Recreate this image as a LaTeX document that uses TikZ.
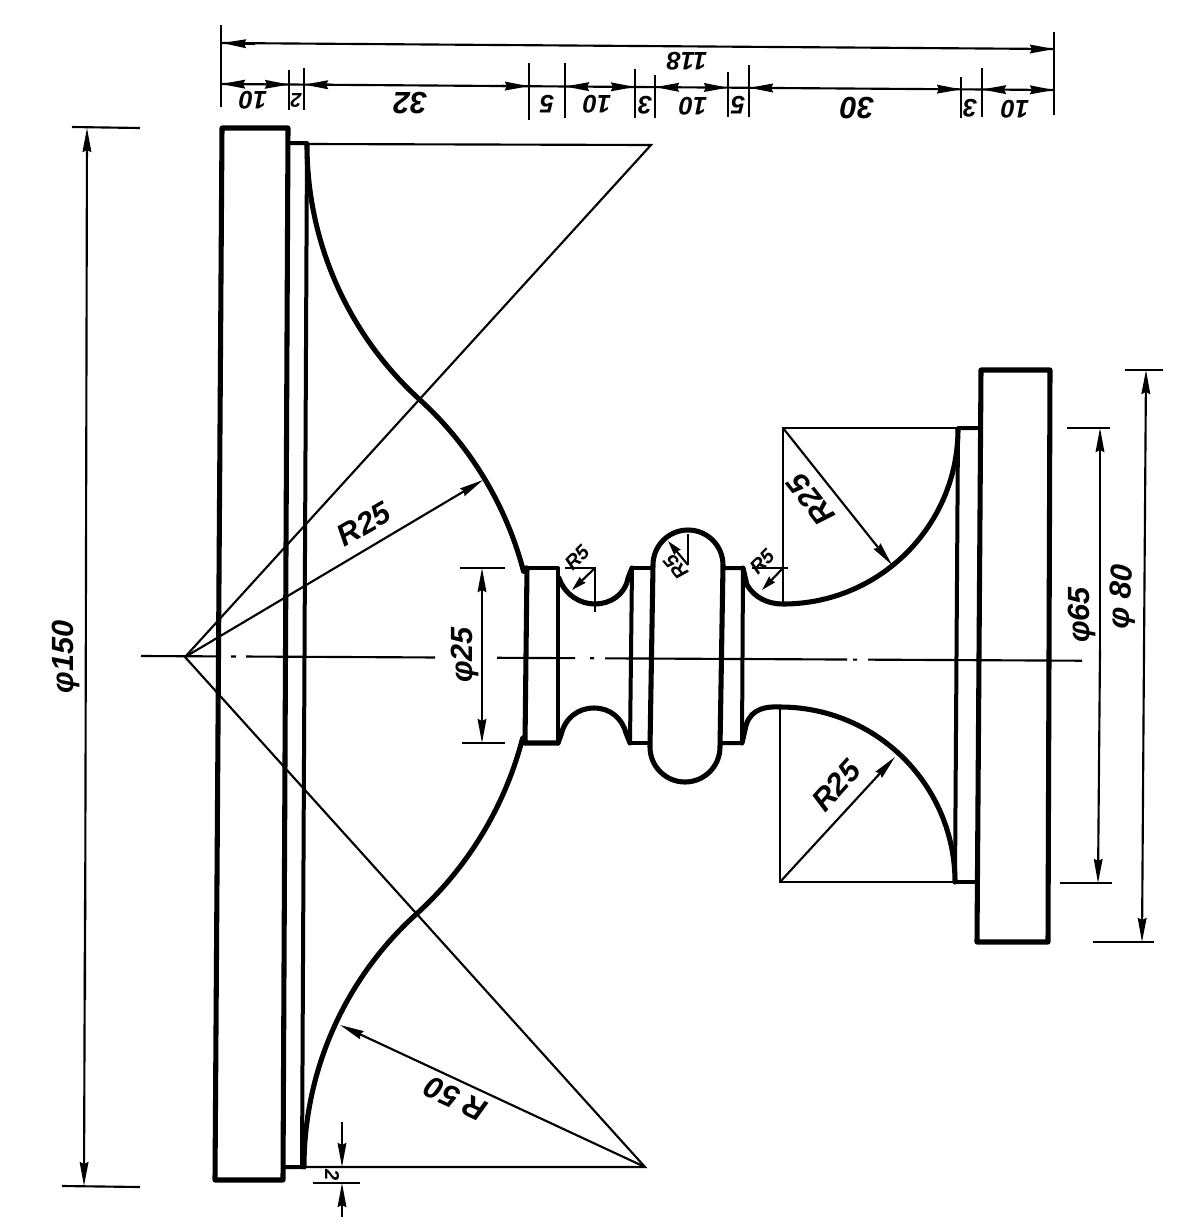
\documentclass[tikz,border=0pt]{standalone}
\usepackage{fontspec}
\usetikzlibrary{arrows.meta}
\newfontfamily\dimfont{Liberation Sans}
\tikzset{
  outline/.style={line width=3.8pt,line join=round,line cap=round},
  midline/.style={line width=3pt,line join=round,line cap=round},
  thin/.style={line width=1.6pt},
  arrowed/.style={line width=1.6pt,-{Stealth[length=18pt,width=6.5pt,inset=1.5pt]}},
  smallarrow/.style={line width=1.6pt,-{Stealth[length=11pt,width=6pt,inset=1pt]}},
  dimtext/.style={font=\dimfont\bfseries\itshape\fontsize{19}{19}\selectfont,inner sep=0pt},
  bigtext/.style={font=\dimfont\bfseries\itshape\fontsize{23}{23}\selectfont,inner sep=0pt},
  smalltext/.style={font=\dimfont\bfseries\itshape\fontsize{15}{15}\selectfont,inner sep=0pt}
}
\begin{document}
\begin{tikzpicture}[x=0.75pt,y=-0.75pt]
\useasboundingbox[fill=white] (0,0) rectangle (1184,1232);
% centres
\coordinate (cA) at (185,657);
\coordinate (cTop) at (651,145);
\coordinate (cBot) at (645,1167);
\coordinate (cRT) at (783,428);
\coordinate (cRB) at (780,882);
\coordinate (c5a) at (595,568);
\coordinate (c5b) at (688,565);
\coordinate (c5c) at (783,568);
% centre line
\foreach \a/\b in {141/216,231/236,246/435,497/575,590/594,605/847,853/857,868/1082}
  \draw[thin] ({\a},{656+(\a-141)*0.005}) -- ({\b},{656+(\b-141)*0.005});
% construction lines
\draw[thin] (cA) -- (cTop) -- (307,144);
\draw[thin] (cA) -- (cBot) -- (304,1167);
\draw[thin] (783,604) -- (cRT) -- (958,428);
\draw[thin] (780,707) -- (cRB) -- (955,882);
\draw[arrowed] (cA) -- (483,480);
\draw[arrowed] (cBot) -- (340,1025);
\draw[arrowed] (cRT) -- (892,565);
\draw[arrowed] (cRB) -- (895,757);
% small radii
\draw[thin] (565,568) -- (c5a) -- (595,612);
\draw[smallarrow] (c5a) -- (572,590);
\draw[thin] (c5b) -- (688,534);
\draw[smallarrow] (c5b) -- (668,541);
\draw[thin] (752,568) -- (788,568);
\draw[smallarrow] (c5c) -- (762,590);
% left flanges
\draw[outline] (222,128) -- (288,128) -- (283,1180) -- (215,1180) -- cycle;
\draw[midline] (288,143) -- (307,143) -- (302,1167) -- (283,1167);
% large profile
\draw[outline] (307,145) arc[start angle=180,end angle=132.7,radius=344]
  arc[start angle=-48.1,end angle=-14.6,radius=353] -- (526,568);
\draw[outline] (304,1167) arc[start angle=-180,end angle=-132.2,radius=341]
  arc[start angle=47.9,end angle=14.4,radius=358] -- (525,743);
% centre collars and neck
\draw[outline] (527,568) -- (525,743) -- (558,743);
\draw[midline] (527,568) -- (558,568) -- (558,743);
\draw[outline] (559,578) .. controls (565,595) and (580,604) .. (595,604)
  .. controls (610,604) and (625,595) .. (628,578) -- (632,568);
\draw[outline] (558,743) -- (561,735) .. controls (565,718) and (578,708) .. (594,708)
  .. controls (610,708) and (622,718) .. (626,733) -- (630,743);
\draw[midline] (632,568) -- (630,743);
\draw[midline] (632,568) -- (653,568);
\draw[midline] (630,743) -- (650,743);
\draw[outline] (653,565) arc[start angle=180,end angle=360,radius=35] -- (720,747)
  arc[start angle=0,end angle=180,radius=35] -- cycle;
\draw[midline] (723,568) -- (743,568) -- (742,743) -- (720,743);
\draw[outline] (743,568) -- (747,585) .. controls (755,598) and (768,604) .. (783,604)
  arc[start angle=90,end angle=0,radius=175];
\draw[outline] (742,743) -- (745,730) .. controls (748,712) and (760,706) .. (780,707)
  arc[start angle=-90,end angle=0,radius=175];
% right flanges
\draw[midline] (955,882) -- (958,428) -- (980,428);
\draw[midline] (955,882) -- (977,882);
\draw[outline] (981,370) -- (1050,370) -- (1048,942) -- (977,942) -- cycle;
% overall dimensions
\draw[thin] (221,25) -- (221,107);
\draw[thin] (1054,32) -- (1054,115);
\draw[thin] (222,43) -- (1054,49);
\draw[arrowed] (255,44) -- (222,43);
\draw[arrowed] (1020,49) -- (1054,49);
\draw[thin] (221,84) -- (1054,90);
\foreach \x/\a/\b in {289/70/110,304/68/110,529/63/120,565/63/118,635/69/118,655/75/118,728/72/117,749/65/117,961/77/118,982/68/117}
  \draw[thin] (\x,\a) -- (\x,\b);
\foreach \a/\b in {245/221,265/289,330/304,502/529,587/565,613/635,677/655,707/728,768/749,937/961,1002/982,1033/1054}
  \draw[arrowed] ({\a},{84+(\a-221)*0.0072}) -- ({\b},{84+(\b-221)*0.0072});
% vertical dimensions
\draw[thin] (72,127) -- (140,128);
\draw[thin] (62,1186) -- (140,1187);
\draw[arrowed] (85,1000) -- (87,128);
\draw[arrowed] (85,900) -- (84,1186);
\draw[thin] (460,568) -- (505,568);
\draw[thin] (462,743) -- (505,743);
\draw[arrowed] (482,650) -- (482,568);
\draw[arrowed] (482,650) -- (482,743);
\draw[thin] (1067,428) -- (1110,428);
\draw[thin] (1060,883) -- (1112,883);
\draw[arrowed] (1100,650) -- (1100,428);
\draw[arrowed] (1100,650) -- (1098,883);
\draw[thin] (1125,370) -- (1163,370);
\draw[thin] (1093,942) -- (1154,942);
\draw[arrowed] (1144,650) -- (1146,370);
\draw[arrowed] (1144,650) -- (1142,942);
\draw[thin] (313,1183) -- (360,1183);
\draw[arrowed] (342,1122) -- (342,1167);
\draw[arrowed] (342,1217) -- (342,1183);
% labels
\node[dimtext,rotate=180] (t118) at (687,61) {118};
\node[dimtext,rotate=180] (t10a) at (253,100) {10};
\node[smalltext,rotate=180] (t2a) at (296,100) {2};
\node[bigtext,rotate=180] (t32) at (410,103) {32};
\node[dimtext,rotate=180] (t5a) at (547,104) {5};
\node[dimtext,rotate=180] (t10b) at (597,104) {10};
\node[dimtext,rotate=180] (t3a) at (645,105) {3};
\node[dimtext,rotate=180] (t10c) at (693,106) {10};
\node[dimtext,rotate=180] (t5b) at (738,105) {5};
\node[bigtext,rotate=180] (t30) at (857,108) {30};
\node[dimtext,rotate=180] (t3b) at (970,108) {3};
\node[dimtext,rotate=180] (t10d) at (1015,109) {10};
\node[bigtext,rotate=90] (t150) at (66,657) {φ150};
\node[bigtext,rotate=90] (t25d) at (465,655) {φ25};
\node[bigtext,rotate=90] (t65) at (1082,615) {φ65};
\node[bigtext,rotate=86] (t80) at (1123,597) {φ 80};
\node[bigtext,rotate=30] (r25a) at (364,524) {R25};
\node[bigtext,rotate=128] (r25b) at (811,500) {R25};
\node[bigtext,rotate=48] (r25c) at (836,786) {R25};
\node[bigtext,rotate=155] (r50) at (456,1099) {R 50};
\node[smalltext,rotate=45] (r5a) at (577,558) {R5};
\node[smalltext,rotate=130] (r5b) at (676,567) {R5};
\node[smalltext,rotate=45] (r5c) at (762,562) {R5};
\node[smalltext,rotate=270] (t2b) at (332,1175) {2};
\end{tikzpicture}
\end{document}
